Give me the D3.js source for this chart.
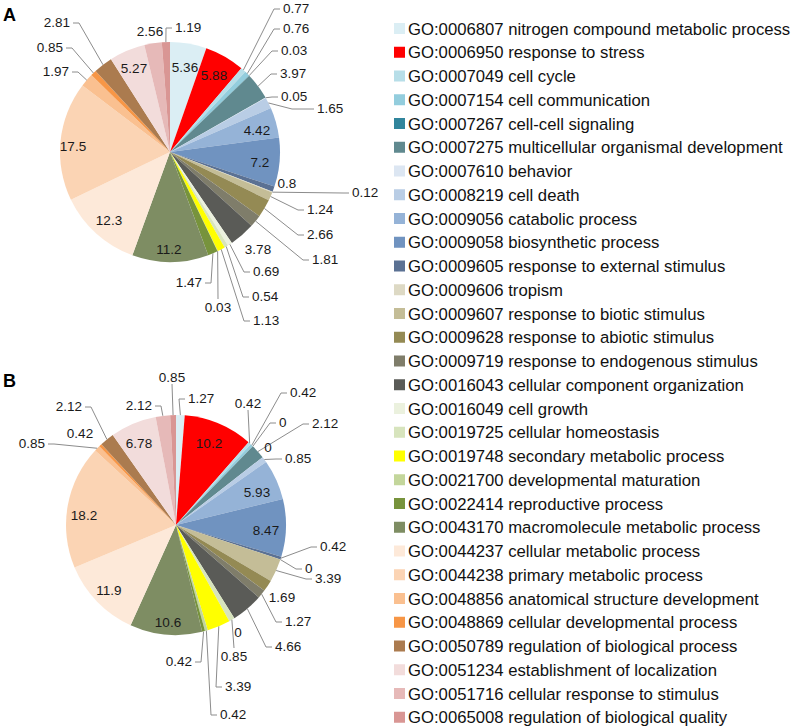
<!DOCTYPE html>
<html><head><meta charset="utf-8">
<script src="https://cdn.jsdelivr.net/npm/d3@7/dist/d3.min.js"></script>
<style>body{margin:0;background:#fff}svg{display:block}</style>
</head><body>
<svg id="chart" width="794" height="727"></svg>
<script>
// ---------- data ----------
const goIds = ["GO:0006807","GO:0006950","GO:0007049","GO:0007154","GO:0007267","GO:0007275","GO:0007610","GO:0008219","GO:0009056","GO:0009058","GO:0009605","GO:0009606","GO:0009607","GO:0009628","GO:0009719","GO:0016043","GO:0016049","GO:0019725","GO:0019748","GO:0021700","GO:0022414","GO:0043170","GO:0044237","GO:0044238","GO:0048856","GO:0048869","GO:0050789","GO:0051234","GO:0051716","GO:0065008"];
const goTerms = ["nitrogen compound metabolic process","response to stress","cell cycle","cell communication","cell-cell signaling","multicellular organismal development","behavior","cell death","catabolic process","biosynthetic process","response to external stimulus","tropism","response to biotic stimulus","response to abiotic stimulus","response to endogenous stimulus","cellular component organization","cell growth","cellular homeostasis","secondary metabolic process","developmental maturation","reproductive process","macromolecule metabolic process","cellular metabolic process","primary metabolic process","anatomical structure development","cellular developmental process","regulation of biological process","establishment of localization","cellular response to stimulus","regulation of biological quality"];
const sliceColors = ["#dbeef4","#ff0000","#b7dee8","#93cddd","#31859c","#60898f","#dce6f2","#b9cde5","#95b3d7","#7093c0","#5b7193","#ddd9c4","#c4bd97","#948a54","#7f7d6a","#5a5b57","#ebf1de","#d7e4bd","#ffff00","#c3d69b","#77933c","#7e8d63","#fde9d9","#fbd4b4","#fac090","#f79646","#ab7b4f","#f2dcdb","#e6b9b8","#d99694"];
const valuesA = [5.36,5.88,0.77,0.76,0.03,3.97,0.05,1.65,4.42,7.2,0.8,0.12,1.24,2.66,1.81,3.78,0.69,0.54,1.13,0.03,1.47,11.2,12.3,17.5,1.97,0.85,2.81,5.27,2.56,1.19];
const valuesB = [1.27,10.2,0.42,0.42,0,2.12,0,0.85,5.93,8.47,0.42,0,3.39,1.69,1.27,4.66,0,0.85,3.39,0.42,0.42,10.6,11.9,18.2,0.85,0.42,2.12,6.78,2.12,0.85];
const panelLetters = ["A","B"];

// ---------- layout (label placement offsets from pie centre) ----------
// [dx, dy, anchor, leader, elbow]  anchor: m=middle s=start e=end ; leader: n=none h=elbow v=vertical
const labelLayoutA = [
 [15,-85,"m","n"],[44,-77,"m","n"],[113,-144,"s","h"],[113,-124,"s","h"],[111,-102,"s","h"],
 [110,-79,"s","h"],[111,-56,"s","h"],[147,-44,"s","h",22],[87,-22,"m","n"],[90,10,"m","n"],
 [117,31,"m","n"],[182,40,"s","h"],[137,57,"s","h"],[137,82,"s","h"],[142,107,"s","h"],
 [88,97,"m","n"],[83,119,"s","h"],[82,144,"s","h"],[83,168,"s","h"],[48,155,"m","v"],
 [32,130,"e","h"],[-1,97,"m","n"],[-61,68,"m","n"],[-97,-6,"m","n"],[-101,-81,"e","h"],
 [-107,-105,"e","h"],[-100,-130,"e","h"],[-36,-84,"m","n"],[-20,-121,"m","n"],[5,-125,"s","h"]
];
const labelLayoutB = [
 [12,-127,"s","h"],[33,-82,"m","n"],[72,-122,"m","v"],[114,-133,"s","h"],[103,-103,"s","h"],
 [136,-102,"s","h"],[92,-78,"m","n"],[109,-67,"s","h"],[81,-33,"m","n"],[90,5,"m","n"],
 [144,21,"s","h"],[129,43,"s","h"],[139,53,"s","h"],[106,72,"m","n"],[109,96,"s","h"],
 [99,121,"s","h"],[62,107,"m","n"],[58,131,"m","v"],[49,161,"s","h"],[44,189,"s","h"],
 [16,136,"e","h"],[-8,97,"m","n"],[-67,65,"m","n"],[-92,-10,"m","n"],[-131,-82,"e","h"],
 [-96,-92,"m","n"],[-94,-119,"e","h"],[-37,-82,"m","n"],[-24,-120,"e","h"],[-4,-148,"m","v"]
];

const svg = d3.select("#chart");
const R = 110;
const pie = d3.pie().sort(null).value(d => d.v);
const arc = d3.arc().innerRadius(0).outerRadius(R);
const rimArc = d3.arc().innerRadius(R).outerRadius(R);
const color = d3.scaleOrdinal().domain(goIds).range(sliceColors);

function drawPie(values, layout, cx, cy, letter, letterY) {
  const data = values.map((v, i) => ({ id: goIds[i], v, i }));
  const g = svg.append("g").attr("transform", `translate(${cx},${cy})`);
  const arcs = pie(data);
  g.selectAll("path.slice").data(arcs).join("path")
    .attr("class", "slice")
    .attr("d", arc)
    .attr("fill", d => color(d.data.id));
  // leaders
  const lg = g.append("g").attr("fill", "none").attr("stroke", "#8c8c8c").attr("stroke-width", 1);
  arcs.forEach(d => {
    const [dx, dy, anc, lead, elb] = layout[d.index];
    if (lead === "n") return;
    const p = rimArc.centroid(d);
    let pts;
    if (lead === "h") {
      const el = elb || 6;
      const tx = anc === "s" ? dx - 3 : dx + 3;
      const ex = anc === "s" ? tx - el : tx + el;
      pts = [p, [ex, dy + 1], [tx, dy + 1]];
    } else {
      const ty = dy < p[1] ? dy + 7 : dy - 8;
      pts = [p, [dx, ty]];
    }
    lg.append("path").attr("d", d3.line()(pts));
  });
  // labels
  const anchorMap = { m: "middle", s: "start", e: "end" };
  g.selectAll("text.val").data(arcs).join("text")
    .attr("class", "val")
    .attr("x", d => layout[d.index][0])
    .attr("y", d => layout[d.index][1])
    .attr("dy", "0.36em")
    .attr("text-anchor", d => anchorMap[layout[d.index][2]])
    .attr("font-family", "'Liberation Sans', Arial, sans-serif")
    .attr("font-size", 13.5)
    .attr("fill", "#1a1a1a")
    .text(d => String(d.data.v));
  svg.append("text").attr("x", 3).attr("y", letterY)
    .attr("font-family", "'Liberation Sans', Arial, sans-serif")
    .attr("font-weight", "bold").attr("font-size", 18).attr("fill", "#000")
    .text(letter);
}

drawPie(valuesA, labelLayoutA, 170, 152, panelLetters[0], 21);
drawPie(valuesB, labelLayoutB, 176, 525, panelLetters[1], 387);

// legend
const rowY = d3.scalePoint().domain(goIds).range([28.5, 28.5 + 29 * 23.75]);
const leg = svg.append("g");
const rows = leg.selectAll("g").data(goIds).join("g")
  .attr("transform", d => `translate(0,${rowY(d)})`);
rows.append("rect").attr("x", 394).attr("y", -5.5).attr("width", 11).attr("height", 11)
  .attr("fill", d => color(d));
rows.append("text").attr("x", 408).attr("y", 0).attr("dy", "0.36em")
  .attr("font-family", "'Liberation Sans', Arial, sans-serif")
  .attr("font-size", 16.7).attr("fill", "#111")
  .text((d, i) => d + " " + goTerms[i]);
</script>
</body></html>
